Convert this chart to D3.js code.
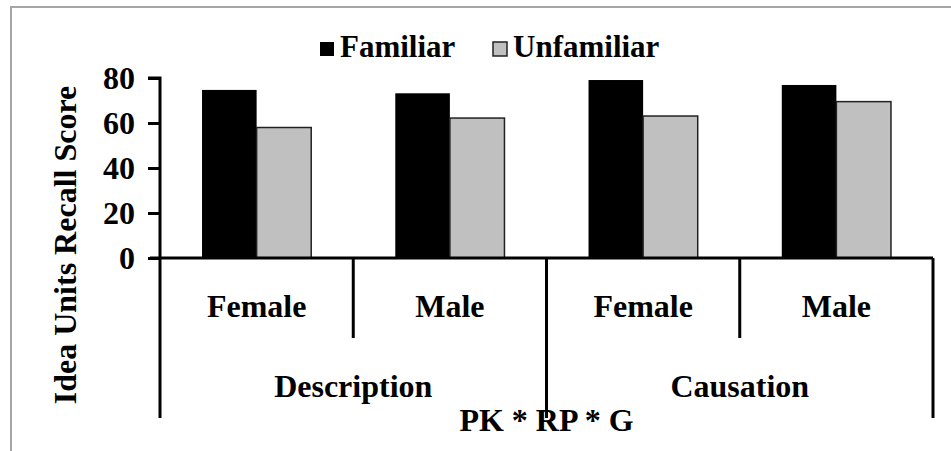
<!DOCTYPE html>
<html><head><meta charset="utf-8">
<script src="https://cdn.jsdelivr.net/npm/d3@7"></script>
<style>
html,body{margin:0;padding:0;background:#fff;}
svg{display:block;}
text{font-family:"Liberation Serif","Times New Roman",serif;font-weight:bold;fill:#000;}
</style></head>
<body>
<svg id="chart" width="951" height="451"></svg>
<script>
const genders = ["Female", "Male", "Female", "Male"];
const types = ["Description", "Causation"];
const seriesNames = ["Familiar", "Unfamiliar"];
const familiar = [74.7, 73.2, 79.1, 76.9];
const unfamiliar = [58.0, 62.2, 63.1, 69.5];
const yTicks = [0, 20, 40, 60, 80];
const yTitle = "Idea Units Recall Score";
const xTitle = "PK * RP * G";
const colors = ["#000000", "#c0c0c0"];

(function () {
const svg = d3.select("#chart");
const mLeft = 160, mRight = 933, mTop = 78, mBottom = 258;
const FS = 32;

// frame
svg.append("path").attr("d", "M11,460 L11,7 L960,7")
  .attr("fill", "none").attr("stroke", "#a6a6a6").attr("stroke-width", 2);

const idx = d3.range(genders.length);
const x0 = d3.scaleBand().domain(idx).range([mLeft, mRight]).padding(0);
const x1 = d3.scaleBand().domain(seriesNames).range([0, x0.bandwidth()]).paddingInner(0).paddingOuter(0.77);
const y = d3.scaleLinear().domain([0, 80]).range([mBottom, mTop]);

const data = idx.map(i => ({i, vals: [familiar[i], unfamiliar[i]]}));

const g = svg.append("g");
data.forEach(d => {
  d.vals.forEach((v, s) => {
    g.append("rect")
      .attr("x", x0(d.i) + x1(seriesNames[s]))
      .attr("y", y(v))
      .attr("width", x1.bandwidth())
      .attr("height", y(0) - y(v))
      .attr("fill", colors[s])
      .attr("stroke", s === 1 ? "#222" : "none")
      .attr("stroke-width", 1.5);
  });
});

// y axis
const yAxis = d3.axisLeft(y).tickValues(yTicks).tickSize(12).tickPadding(13);
const ya = svg.append("g").attr("transform", `translate(${mLeft},0)`).call(yAxis);
ya.select(".domain").attr("stroke", "#000").attr("stroke-width", 3).attr("d", `M-12,${mTop}H0V${mBottom}`);
ya.selectAll(".tick line").attr("stroke", "#000").attr("stroke-width", 3);
ya.selectAll(".tick text").attr("font-size", FS).attr("font-family", "Liberation Serif").attr("font-weight", "bold").attr("fill", "#000");

// x axis baseline
svg.append("line").attr("x1", 150).attr("x2", mRight).attr("y1", mBottom).attr("y2", mBottom)
  .attr("stroke", "#000").attr("stroke-width", 3);

// dividers
const bounds = idx.map(i => x0(i)).concat([mRight]);
bounds.forEach((bx, k) => {
  const long = (k % 2 === 0);
  svg.append("line").attr("x1", bx).attr("x2", bx).attr("y1", mBottom)
    .attr("y2", long ? 418 : 338).attr("stroke", "#000").attr("stroke-width", 3);
});

// gender labels
idx.forEach(i => {
  svg.append("text").attr("x", x0(i) + x0.bandwidth() / 2).attr("y", 317)
    .attr("text-anchor", "middle").attr("font-size", FS).text(genders[i]);
});
// type labels
types.forEach((t, k) => {
  const cx = (x0(2 * k) + x0(2 * k + 1) + x0.bandwidth()) / 2;
  svg.append("text").attr("x", cx).attr("y", 397)
    .attr("text-anchor", "middle").attr("font-size", FS).text(t);
});
// x title
svg.append("text").attr("x", (mLeft + mRight) / 2).attr("y", 431)
  .attr("text-anchor", "middle").attr("font-size", FS).text(xTitle);

// y title
svg.append("text").attr("transform", "translate(76,245) rotate(-90)")
  .attr("text-anchor", "middle").attr("font-size", FS).text(yTitle);

// legend
const lg = svg.append("g");
const legX = [320, 493];
seriesNames.forEach((n, s) => {
  lg.append("rect").attr("x", legX[s]).attr("y", 42).attr("width", 14).attr("height", 14)
    .attr("fill", colors[s]).attr("stroke", s === 1 ? "#222" : "none").attr("stroke-width", 1.5);
  lg.append("text").attr("x", legX[s] + 20).attr("y", 57).attr("font-size", 31).text(n);
});
})();
</script>
</body></html>
